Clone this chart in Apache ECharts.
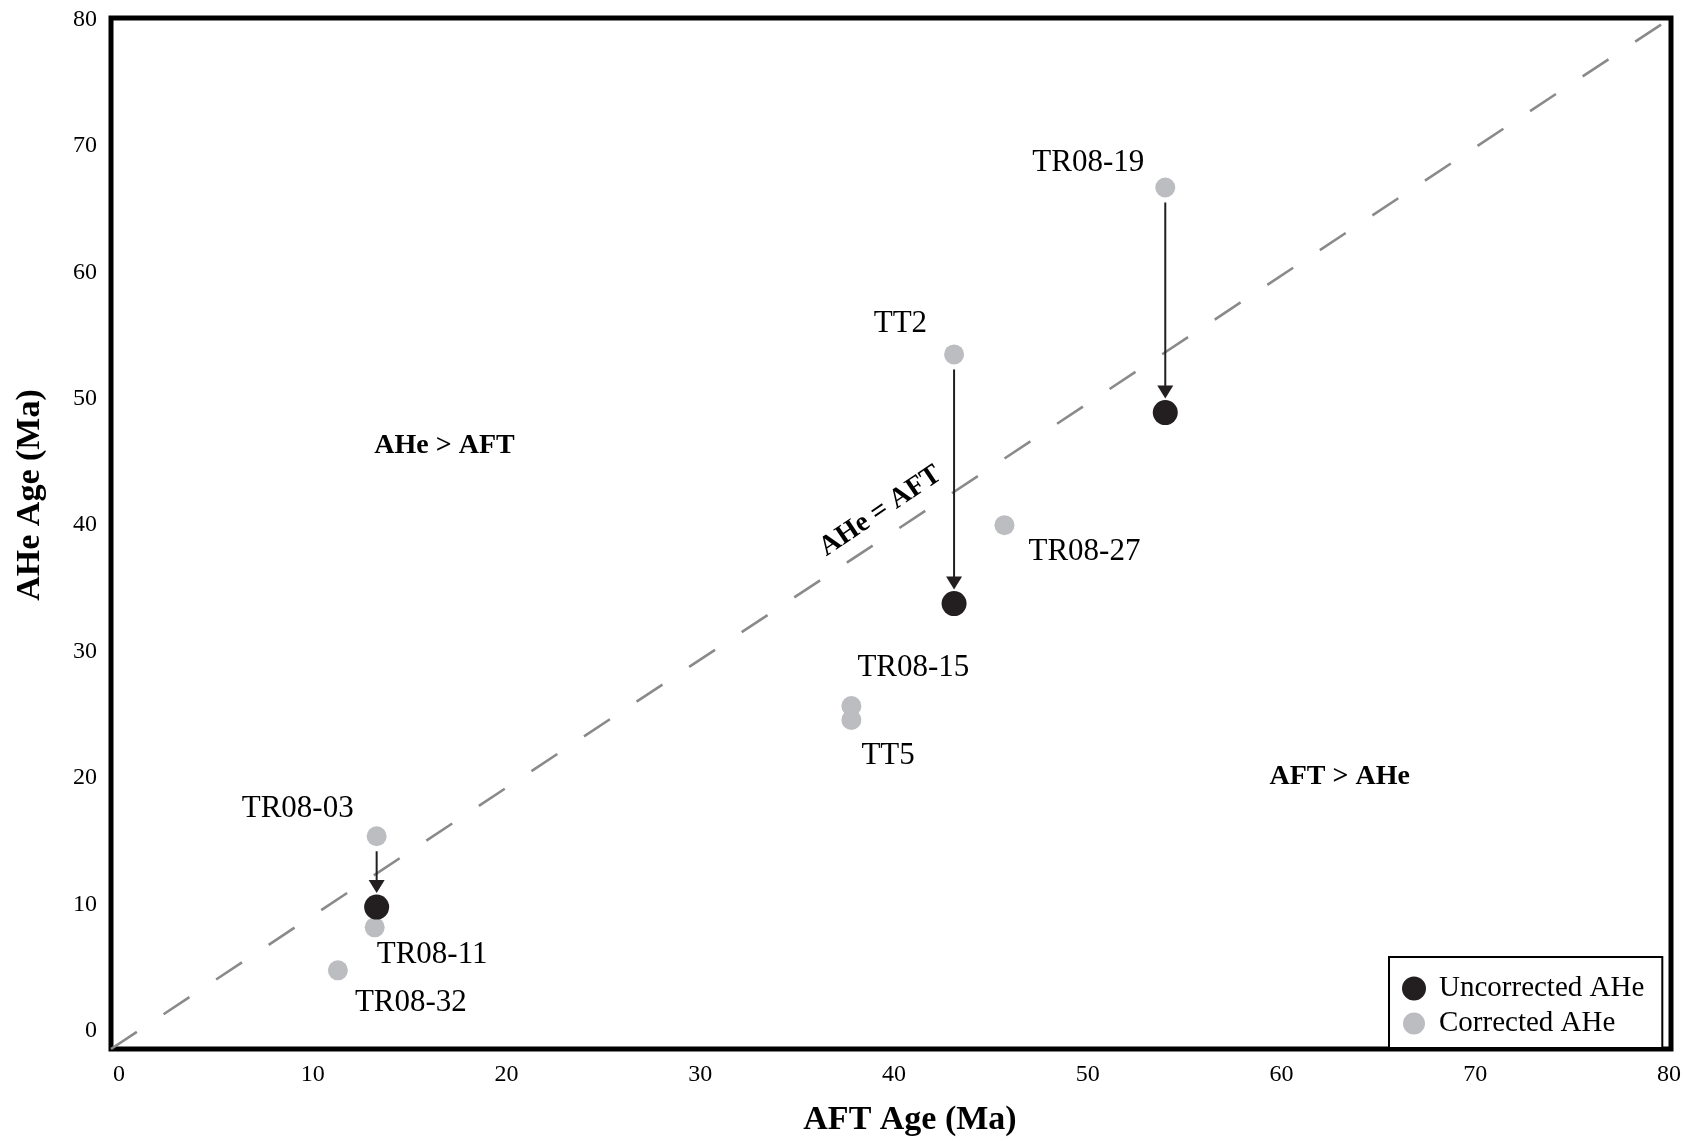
<!DOCTYPE html>
<html>
<head>
<meta charset="utf-8">
<title>AHe vs AFT ages</title>
<script src="https://cdn.jsdelivr.net/npm/echarts@6/dist/echarts.min.js"></script>
<style>
  html, body { margin: 0; padding: 0; background: #ffffff; }
  #chart { width: 1686px; height: 1141px; }
</style>
</head>
<body>
<div id="chart"></div>
<script>
// ---- data -------------------------------------------------------------
// Sample names and ages (Ma)
const samples       = ['TR08-19', 'TT2', 'TR08-27', 'TR08-15', 'TT5', 'TR08-03', 'TR08-11', 'TR08-32'];
const aftAge        = [54.0, 43.1, 45.7, 37.8, 37.8, 13.3, 13.2, 11.3];
const correctedAhe  = [66.7, 53.5, 40.0, 25.7, 24.6, 15.4, 8.2, 4.8];

// Samples that also have an uncorrected AHe age
const uncorrectedSamples = ['TR08-19', 'TT2', 'TR08-03'];
const uncorrectedAhe     = [48.9, 33.8, 9.8];

const tickValues = [0, 10, 20, 30, 40, 50, 60, 70, 80];

// Region annotations: text, AFT, AHe, rotation in degrees
const regionText  = ['AHe > AFT', 'AFT > AHe', 'AHe = AFT'];
const regionAft   = [16.8, 63.0, 39.3];
const regionAhe   = [46.3, 20.1, 41.1];
const regionAngle = [0, 0, 34];

// ---- layout / style -----------------------------------------------------
const SERIF = "'Liberation Serif', 'Times New Roman', serif";
const BLACK_DOT = '#231f20';
const GREY_DOT = '#bcbdc0';

// The frame is a touch wider than the labelled 0-80 span
const X_MIN = -0.41, X_MAX = 80.1;
const Y_MIN = -1.42, Y_MAX = 80.1;

// Where each sample label sits relative to its point (px)
const labelPlacement = {
  'TR08-19': { align: 'right', offset: [-21, -25] },
  'TT2':     { align: 'right', offset: [-27, -31] },
  'TR08-27': { align: 'left',  offset: [24, 27] },
  'TR08-15': { align: 'left',  offset: [6, -38] },
  'TT5':     { align: 'left',  offset: [10, 36] },
  'TR08-03': { align: 'right', offset: [-23, -27] },
  'TR08-11': { align: 'left',  offset: [2, 28] },
  'TR08-32': { align: 'left',  offset: [17, 33] }
};

const correctedData = samples.map((name, i) => ({
  name,
  value: [aftAge[i], correctedAhe[i]],
  label: {
    show: true,
    position: 'inside',
    formatter: '{b}',
    align: labelPlacement[name].align,
    verticalAlign: 'middle',
    offset: labelPlacement[name].offset,
    fontFamily: SERIF,
    fontSize: 31,
    color: '#000',
    textBorderWidth: 0
  }
}));

const uncorrectedData = uncorrectedSamples.map((name, i) => ({
  name,
  value: [aftAge[samples.indexOf(name)], uncorrectedAhe[i]]
}));

// Arrow from corrected to uncorrected age for the same sample
const arrowData = uncorrectedSamples.map((name, i) => {
  const k = samples.indexOf(name);
  return [aftAge[k], correctedAhe[k], uncorrectedAhe[i]];
});

const regionData = regionText.map((t, i) => ({
  name: t,
  value: [regionAft[i], regionAhe[i]],
  label: { rotate: regionAngle[i] }
}));

const chart = echarts.init(document.getElementById('chart'), null, { renderer: 'canvas' });

chart.setOption({
  animation: false,
  backgroundColor: '#ffffff',
  grid: {
    left: 111, top: 18, right: 15, bottom: 92,
    outerBoundsMode: 'none',
    show: true,
    borderColor: '#000',
    borderWidth: 5,
    backgroundColor: '#ffffff'
  },
  xAxis: {
    type: 'value',
    min: X_MIN, max: X_MAX,
    name: 'AFT Age (Ma)',
    nameLocation: 'middle',
    nameGap: 54,
    nameTextStyle: { fontFamily: SERIF, fontSize: 34, fontWeight: 'bold', color: '#000', padding: [0, 0, 0, 38] },
    axisLine: { show: false },
    axisTick: { show: false },
    splitLine: { show: false },
    axisLabel: { customValues: tickValues, margin: 14, fontFamily: SERIF, fontSize: 24, color: '#000' }
  },
  yAxis: {
    type: 'value',
    min: Y_MIN, max: Y_MAX,
    name: 'AHe Age (Ma)',
    nameLocation: 'middle',
    nameRotate: 90,
    nameGap: 64,
    nameTextStyle: { fontFamily: SERIF, fontSize: 34, fontWeight: 'bold', color: '#000', padding: [0, 0, 0, 77] },
    axisLine: { show: false },
    axisTick: { show: false },
    splitLine: { show: false },
    axisLabel: { customValues: tickValues, margin: 14, fontFamily: SERIF, fontSize: 24, color: '#000' }
  },
  legend: {
    data: [
      { name: 'Uncorrected AHe' },
      { name: 'Corrected AHe', itemStyle: { borderColor: '#ffffff', borderWidth: 2 } }
    ],
    orient: 'vertical',
    left: 1389, top: 957,
    padding: [17, 18, 10, 12],
    itemGap: 6,
    itemWidth: 40, itemHeight: 24,
    icon: 'circle',
    backgroundColor: '#ffffff',
    borderColor: '#000',
    borderWidth: 2,
    textStyle: { fontFamily: SERIF, fontSize: 29, color: '#000' }
  },
  series: [
    {
      // 1:1 reference line across the frame
      name: '1:1',
      type: 'line',
      data: [[X_MIN, Y_MIN], [X_MAX, Y_MAX]],
      symbol: 'none',
      silent: true,
      z: 1,
      lineStyle: { color: '#8a8a8a', width: 2.6, type: [31, 32] }
    },
    {
      name: 'arrows',
      type: 'custom',
      data: arrowData,
      encode: { x: 0, y: [1, 2] },
      silent: true,
      z: 2,
      renderItem(params, api) {
        const top = api.coord([api.value(0), api.value(1)]);
        const bot = api.coord([api.value(0), api.value(2)]);
        const x = (top[0] + bot[0]) / 2;
        const y0 = top[1] + 15;
        const tip = bot[1] - 14;
        const base = tip - 13;
        return {
          type: 'group',
          children: [
            { type: 'line', shape: { x1: x, y1: y0, x2: x, y2: base + 1 },
              style: { stroke: BLACK_DOT, lineWidth: 2 } },
            { type: 'polygon', shape: { points: [[x - 8, base], [x + 8, base], [x, tip]] },
              style: { fill: BLACK_DOT } }
          ]
        };
      }
    },
    {
      name: 'Corrected AHe',
      type: 'scatter',
      data: correctedData,
      symbol: 'circle',
      symbolSize: 20,
      z: 3,
      itemStyle: { color: GREY_DOT, opacity: 1 }
    },
    {
      name: 'Uncorrected AHe',
      type: 'scatter',
      data: uncorrectedData,
      symbol: 'circle',
      symbolSize: 25,
      z: 4,
      itemStyle: { color: BLACK_DOT, opacity: 1 }
    },
    {
      name: 'regions',
      type: 'scatter',
      data: regionData,
      symbolSize: 1,
      silent: true,
      z: 5,
      itemStyle: { color: '#000', opacity: 0 },
      label: {
        show: true,
        position: 'inside',
        formatter: '{b}',
        fontFamily: SERIF,
        fontSize: 28,
        fontWeight: 'bold',
        color: '#000',
        opacity: 1,
        textBorderWidth: 0
      }
    }
  ]
});
</script>
</body>
</html>
